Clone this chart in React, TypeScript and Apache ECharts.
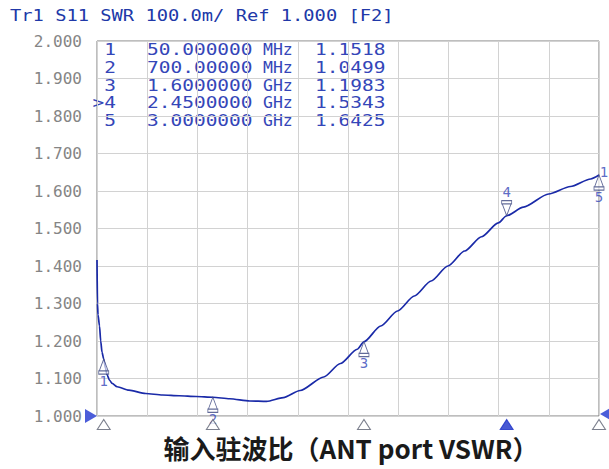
import React, { useEffect, useRef } from "react";
import * as echarts from "echarts";

// Trace data: frequency (GHz) and SWR
const curveFreq = [
  0.01, 0.013, 0.016, 0.025, 0.032, 0.04, 0.05, 0.06, 0.07, 0.085, 0.1, 0.13,
  0.2, 0.3, 0.4, 0.5, 0.6, 0.7, 0.8, 0.92, 1.02, 1.12, 1.22, 1.36, 1.46, 1.56,
  1.6, 1.7, 1.8, 1.9, 2.0, 2.1, 2.2, 2.3, 2.4, 2.45, 2.55, 2.7, 2.83, 2.95, 3.0,
];
const curveSwr = [
  1.416, 1.3, 1.27, 1.24, 1.2, 1.17, 1.152, 1.128, 1.11, 1.095, 1.087, 1.078,
  1.069, 1.06, 1.056, 1.054, 1.052, 1.05, 1.046, 1.04, 1.039, 1.049, 1.068, 1.104,
  1.14, 1.178, 1.198, 1.24, 1.28, 1.32, 1.36, 1.4, 1.44, 1.478, 1.515, 1.534,
  1.557, 1.592, 1.612, 1.632, 1.6425,
];

// Markers
const markerIds = ["1", "2", "3", ">4", "5"];
const markerFreq = [0.05, 0.7, 1.6, 2.45, 3.0];
const markerFreqText = ["50.000000", "700.00000", "1.6000000", "2.4500000", "3.0000000"];
const markerUnit = ["MHz", "MHz", "GHz", "GHz", "GHz"];
const markerSwr = [1.1518, 1.0499, 1.1983, 1.5343, 1.6425];
const activeMarker = 3;

// Axes
const freqStart = 0.01;
const freqStop = 3.0;
const swrMin = 1.0;
const swrMax = 2.0;
const swrStep = 0.1;
const xDivisions = 10;

const titleText = "Tr1 S11 SWR 100.0m/ Ref 1.000 [F2]";
const captionText = "输入驻波比（ANT port VSWR）";

const MONO = "DejaVu Sans Mono";
const BLUE_TEXT = "#3446b8";
const TRACE = "#1a2aa8";

const markerUp = "path://M5,0 L9,11 L1,11 Z M0.5,11 L9.5,11 L9.5,14 L0.5,14 Z";
const markerDown = "path://M0.5,0 L9.5,0 L9.5,3 L0.5,3 Z M1,3 L9,3 L5,14 Z";
const triUp = "path://M5,0 L10,10 L0,10 Z";
const triRight = "path://M0,0 L10,6 L0,12 Z";
const triLeft = "path://M10,0 L0,6 L10,12 Z";

export default function App() {
  const ref = useRef<HTMLDivElement>(null);

  useEffect(() => {
    if (!ref.current) return;
    const chart = echarts.init(ref.current, undefined, { renderer: "svg" });

    const rowY = [50, 68, 85.5, 103, 121];
    const tableTexts: any[] = [];
    markerIds.forEach((id, i) => {
      const common = { fontFamily: MONO, fontSize: 15, fill: BLUE_TEXT, textVerticalAlign: "middle" };
      tableTexts.push({
        type: "text", x: 116, y: rowY[i], scaleX: 1.3,
        style: { ...common, text: id, textAlign: "right" },
      });
      tableTexts.push({
        type: "text", x: 147, y: rowY[i], scaleX: 1.3,
        style: { ...common, text: markerFreqText[i], textAlign: "left" },
      });
      tableTexts.push({
        type: "text", x: 263, y: rowY[i], scaleX: 1.1,
        style: { ...common, text: markerUnit[i], textAlign: "left" },
      });
      tableTexts.push({
        type: "text", x: 315, y: rowY[i], scaleX: 1.3,
        style: { ...common, text: markerSwr[i].toFixed(4), textAlign: "left" },
      });
    });

    const upIdx = [0, 1, 2, 4];

    const option: any = {
      animation: false,
      backgroundColor: "#ffffff",
      grid: {
        left: 97, right: 10, top: 41, bottom: 53,
        show: true, borderColor: "#7c7c7c", borderWidth: 1, backgroundColor: "#ffffff",
      },
      xAxis: [
        {
          type: "value", min: 0, max: xDivisions, interval: 1,
          axisLine: { show: false }, axisTick: { show: false }, axisLabel: { show: false },
          splitLine: { show: true, lineStyle: { color: "#d2d2d2", width: 1 } },
        },
        { type: "value", min: freqStart, max: freqStop, show: false },
      ],
      yAxis: {
        type: "value", min: swrMin, max: swrMax, interval: swrStep,
        axisLine: { show: false }, axisTick: { show: false },
        axisLabel: {
          formatter: (v: number) => v.toFixed(3),
          color: "#858585", fontFamily: MONO, fontSize: 16, margin: 15,
        },
        splitLine: { show: true, lineStyle: { color: "#d2d2d2", width: 1 } },
      },
      series: [
        {
          type: "line", xAxisIndex: 1,
          data: curveFreq.map((f, i) => [f, curveSwr[i]]),
          showSymbol: false, symbol: "none",
          smooth: 0.25, smoothMonotone: "x",
          lineStyle: { color: TRACE, width: 1.7 },
          z: 3, silent: true,
        },
        {
          type: "scatter", xAxisIndex: 1, clip: false, z: 4,
          data: upIdx.map((i) => ({ value: [markerFreq[i], markerSwr[i]], name: markerIds[i] })),
          symbol: markerUp, symbolSize: [10, 15], symbolOffset: [0, 7.5],
          itemStyle: { color: "rgba(255,255,255,0.8)", borderColor: "#3b4680", borderWidth: 1 },
          label: {
            show: true, position: "bottom", distance: -1,
            formatter: (p: any) => p.data.name,
            color: BLUE_TEXT, fontFamily: MONO, fontSize: 14,
          },
        },
        {
          type: "scatter", xAxisIndex: 1, clip: false, z: 4,
          data: [{ value: [markerFreq[activeMarker], markerSwr[activeMarker]], name: "4" }],
          symbol: markerDown, symbolSize: [10, 15], symbolOffset: [0, -7.5],
          itemStyle: { color: "rgba(255,255,255,0.8)", borderColor: "#3b4680", borderWidth: 1 },
          label: {
            show: true, position: "top", distance: 1,
            formatter: (p: any) => p.data.name,
            color: BLUE_TEXT, fontFamily: MONO, fontSize: 14,
          },
        },
        {
          type: "scatter", xAxisIndex: 1, clip: false, z: 4,
          data: [{ value: [markerFreq[4], markerSwr[4]], name: "1" }],
          symbolSize: 1, itemStyle: { color: "rgba(0,0,0,0)" },
          label: {
            show: true, position: "top", distance: 4, offset: [5, 8],
            formatter: (p: any) => p.data.name,
            color: BLUE_TEXT, fontFamily: MONO, fontSize: 14,
          },
        },
        {
          type: "scatter", xAxisIndex: 1, clip: false, z: 5,
          data: markerFreq.map((f, i) => ({
            value: [f, swrMin],
            itemStyle: i === activeMarker
              ? { color: "#1a30c8", borderColor: "#1a30c8" }
              : { color: "#ffffff", borderColor: "#5a5f70" },
          })),
          symbol: triUp, symbolSize: [13, 10], symbolOffset: [0, 8.5],
          itemStyle: { borderWidth: 1 },
        },
        {
          type: "scatter", xAxisIndex: 1, clip: false, z: 5,
          data: [
            { value: [freqStart, swrMin], symbol: triRight, symbolOffset: [-6, 0] },
            { value: [freqStop, swrMin], symbol: triLeft, symbolOffset: [7, -2] },
          ],
          symbolSize: [12, 14],
          itemStyle: { color: "#1e34d0" },
        },
      ],
      graphic: [
        {
          type: "text", x: 10, y: 16, scaleX: 1.25,
          style: {
            text: titleText, fontFamily: MONO, fontSize: 15, fill: "#2038a8",
            textAlign: "left", textVerticalAlign: "middle",
          },
        },
        ...tableTexts,
        {
          type: "text", x: 351, y: 447,
          style: {
            text: captionText, fontFamily: "Noto Sans CJK SC", fontSize: 26, fontWeight: "bold",
            fill: "#1a1a1a", textAlign: "center", textVerticalAlign: "middle",
          },
        },
      ],
    };

    chart.setOption(option);
    return () => chart.dispose();
  }, []);

  return (
    <div
      ref={ref}
      style={{ position: "fixed", left: 0, top: 0, width: 609, height: 469, background: "#fff" }}
    />
  );
}
